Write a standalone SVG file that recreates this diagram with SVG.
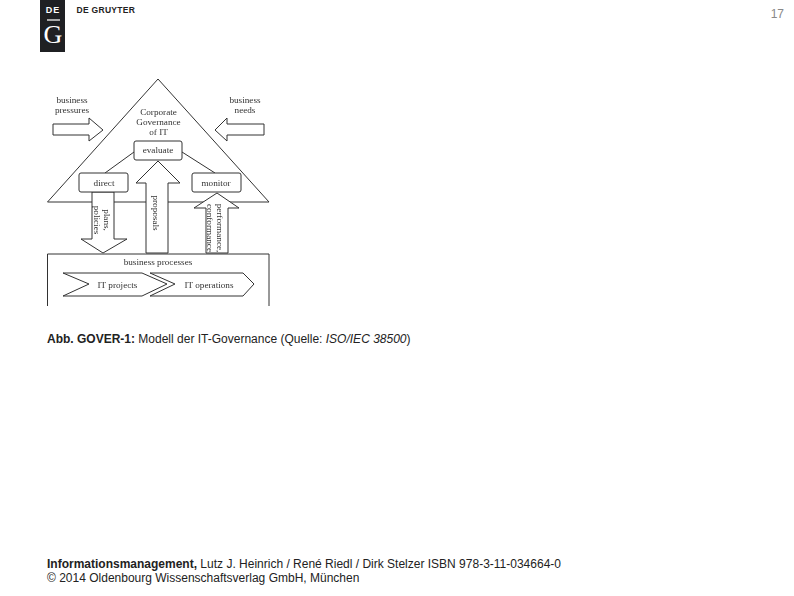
<svg xmlns="http://www.w3.org/2000/svg" width="794" height="596" viewBox="0 0 794 596">
<style>
.s{fill:#fff;stroke:#333;stroke-width:1}
.f{font-family:"Liberation Serif",serif;font-size:9.2px;fill:#333;text-anchor:middle}
.t{font-family:"Liberation Sans",Arial,sans-serif;font-size:12px;fill:#222}
.b{font-weight:bold}
</style>
<defs><filter id="soft" x="-5%" y="-5%" width="110%" height="110%"><feGaussianBlur stdDeviation="0.35"/></filter></defs>
<rect width="794" height="596" fill="#fff"/>
<g id="logo">
<rect x="40" y="0" width="25" height="52" fill="#1f2023"/>
<text x="53" y="13" font-family="Liberation Sans,sans-serif" font-size="9" font-weight="bold" fill="#fff" text-anchor="middle" letter-spacing="1">DE</text>
<rect x="47" y="19" width="13" height="2" fill="#aaa"/>
<text x="53" y="43" font-family="Liberation Serif,serif" font-size="26" fill="#fff" text-anchor="middle">G</text>
<text x="76.500" y="13" font-family="Liberation Sans,sans-serif" font-size="8.500" font-weight="bold" fill="#222" letter-spacing="0.3">DE GRUYTER</text>
</g>
<text id="page" x="784" y="18" font-family="Liberation Sans,sans-serif" font-size="12" fill="#888" text-anchor="end">17</text>
<g filter="url(#soft)">
<g id="governance"><path class="s" d="M158 79 269 202H47.500Z"/>
<text class="f"><tspan x="158.500" y="115">Corporate</tspan><tspan x="158.500" y="125">Governance</tspan><tspan x="158.500" y="134.500">of IT</tspan></text></g>
<g id="pressures"><path class="s" d="M53 124H89V118L103 130 89 141V135H53Z"/>
<text class="f"><tspan x="72" y="102.500">business</tspan><tspan x="72" y="112.500">pressures</tspan></text></g>
<g id="needs"><path class="s" d="M264 124H227V118L215 130 227 141V135H264Z"/>
<text class="f"><tspan x="245" y="102.500">business</tspan><tspan x="245" y="112.500">needs</tspan></text></g>
<g id="connectors"><path class="s" fill="none" d="M105 173 134 152M182 152 215 173"/></g>
<g id="plans"><path class="s" d="M92 192V239H81L103 253 127 239H114V192Z"/>
<text class="f" transform="translate(104 220) rotate(90)"><tspan x="0" y="0">plans,</tspan><tspan x="0" y="10">policies</tspan></text></g>
<g id="proposals"><path class="s" d="M146 253V183H136L158 161 180 183H168V253Z"/>
<text class="f" transform="translate(153 213) rotate(90)">proposals</text></g>
<g id="performance"><path class="s" d="M206 253V208H194L217 193 239 208H228V253Z"/>
<text class="f" transform="translate(217 228) rotate(90)"><tspan x="0" y="0">performance,</tspan><tspan x="0" y="10">conformance</tspan></text></g>
<g id="evaluate"><rect class="s" x="134" y="141" width="48" height="19" rx="2"/><text class="f" x="158" y="153">evaluate</text></g>
<g id="direct"><rect class="s" x="79" y="173" width="49" height="19" rx="2"/><text class="f" x="104" y="186">direct</text></g>
<g id="monitor"><rect class="s" x="192" y="173" width="49" height="19" rx="2"/><text class="f" x="216" y="186">monitor</text></g>
<g id="processes"><path class="s" d="M47.500 306V254H269V306"/><text class="f" x="158" y="265">business processes</text></g>
<g id="operations"><path class="s" d="M150 273H243L254 284 243 296H150L175 284Z"/><text class="f" x="209" y="288">IT operations</text></g>
<g id="projects"><path class="s" d="M63 273H142L167 284 142 296H63L89 284Z"/><text class="f" x="117.500" y="288">IT projects</text></g>
</g>
<g id="caption"><text class="t" x="47" y="343"><tspan class="b">Abb. GOVER-1:</tspan> Modell der IT-Governance (Quelle: <tspan font-style="italic">ISO/IEC 38500</tspan>)</text></g>
<g id="footer"><text class="t" x="47" y="568"><tspan class="b">Informationsmanagement,</tspan> Lutz J. Heinrich / René Riedl / Dirk Stelzer ISBN 978-3-11-034664-0</text>
<text class="t" x="47" y="582">© 2014 Oldenbourg Wissenschaftsverlag GmbH, München</text></g>
</svg>
